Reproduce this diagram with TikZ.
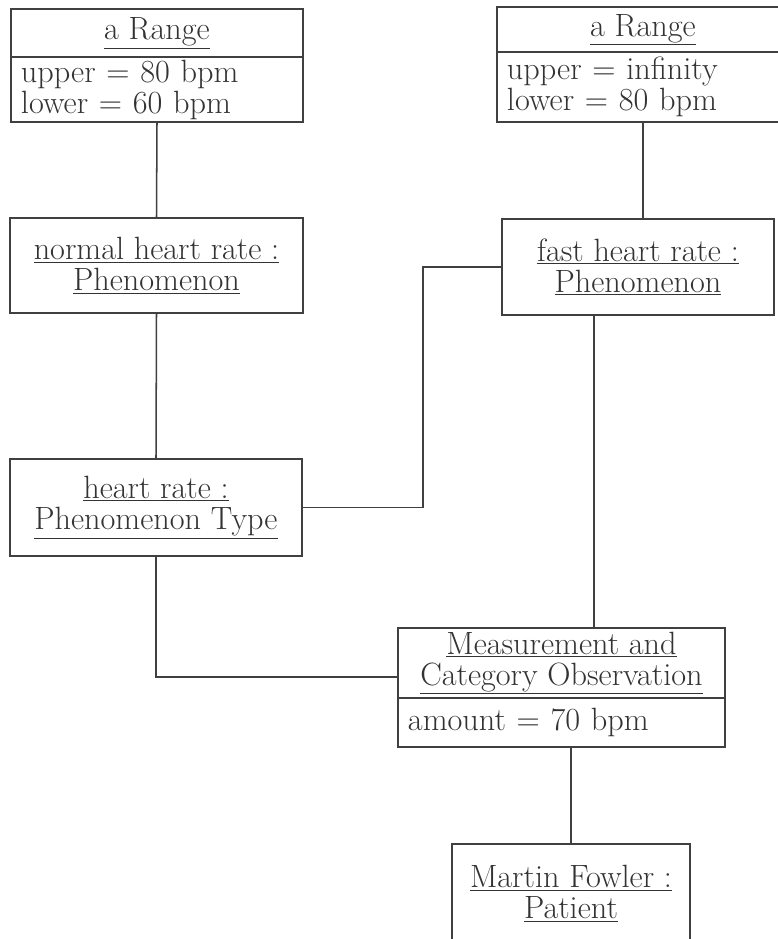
\documentclass[tikz,border=0pt]{standalone}
\usepackage{tikz}
\usetikzlibrary{positioning, calc}

\begin{document}
\begin{tikzpicture}[x=0.03cm, y=-0.03cm,
    every node/.style={text=black!80},
    obj/.style 2 args={draw=black!75, line width=1.3pt, align=center, inner sep=0pt, minimum width=#1, minimum height=#2, font=\fontsize{27.5}{26.5}\selectfont},
    att/.style 2 args={draw=black!75, line width=1.3pt, align=left, inner xsep=0.3cm, inner ysep=0pt, text width=#1, minimum height=#2, font=\fontsize{27.5}{26.5}\selectfont},
    wire/.style={draw=black!75, line width=1.3pt}]
    \useasboundingbox (0,0) rectangle (778,939);
    % ranges
    \node[obj={8.76cm}{1.44cm}] (rangeA) at (157,33) {\underline{a Range}};
    \node[att={8.16cm}{1.95cm}] (rangeAval) at (157,89.5) {upper = 80 bpm\\lower = 60 bpm};
    \node[obj={8.76cm}{1.35cm}] (rangeB) at (643,29.5) {\underline{a Range}};
    \node[att={8.16cm}{2.1cm}] (rangeBval) at (643,87) {upper = infinity\\lower = 80 bpm};
    % phenomena
    \node[obj={8.79cm}{2.85cm}] (normal) at (156.5,265.5) {\underline{normal heart rate :}\\\underline{Phenomenon}};
    \node[obj={8.16cm}{2.88cm}] (fast) at (638,267) {\underline{fast heart rate :}\\\underline{Phenomenon}};
    \node[obj={8.76cm}{2.91cm}] (hr) at (156,507.5) {\underline{heart rate :}\\\underline{Phenomenon Type}};
    % observation and patient
    \node[obj={9.81cm}{2.1cm}] (meas) at (561.5,663) {\underline{Measurement and}\\\underline{Category Observation}};
    \node[att={9.21cm}{1.47cm}] (measval) at (561.5,722.5) {amount = 70 bpm};
    \node[obj={7.14cm}{2.97cm}] (pat) at (571,893.5) {\underline{Martin Fowler :}\\\underline{Patient}};

    \coordinate (elbow) at (423,400);
    \coordinate (tap) at (594,0);
    \draw[wire] (rangeAval.south) -- (normal.north);
    \draw[wire] (rangeBval.south) -- (fast.north -| rangeBval.south);
    \draw[wire] (normal.south) -- (hr.north);
    \draw[wire] (hr.east) -| (elbow) |- (fast.west);
    \draw[wire] (fast.south -| tap) -- (meas.north -| tap);
    \draw[wire] (hr.south) |- ([yshift=0.66cm]meas.south west);
    \draw[wire] (measval.south -| pat.north) -- (pat.north);
\end{tikzpicture}
\end{document}
